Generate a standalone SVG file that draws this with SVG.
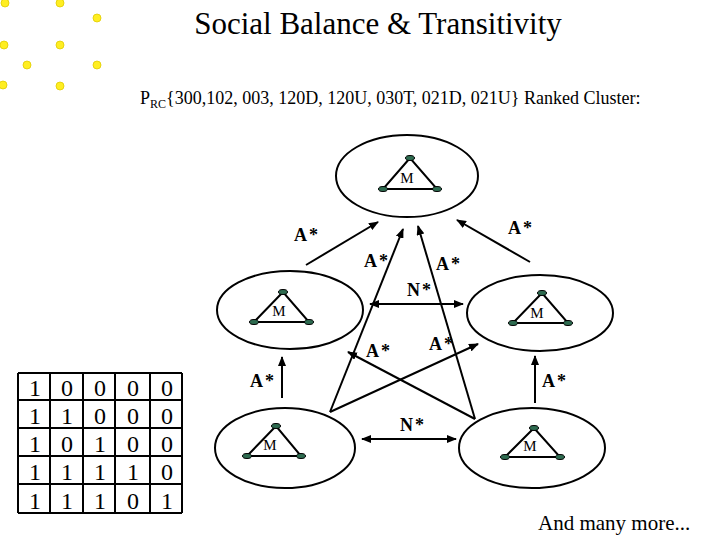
<svg xmlns="http://www.w3.org/2000/svg" width="720" height="540" viewBox="0 0 720 540">
<style>
.t{font-family:"Liberation Serif",serif;fill:#000}
.l{font-family:"Liberation Serif",serif;font-weight:bold;font-size:18px;letter-spacing:2px}
.m{font-family:"Liberation Serif",serif;font-size:15px;text-anchor:middle}
.e{fill:none;stroke:#000;stroke-width:2}
.c{stroke:#000;stroke-width:2;fill:none}
.n{fill:#2e6b50;stroke:#000;stroke-width:1}
.tri{fill:none;stroke:#000;stroke-width:2}
.dot{fill:#ffee22;stroke:#e0cc00;stroke-width:0.8}
.g{stroke:#000;stroke-width:2}
.mx{font-family:"Liberation Serif",serif;font-size:24px;text-anchor:middle}
</style>
<defs>
<marker id="ar" markerWidth="10" markerHeight="8" refX="9" refY="4" orient="auto" markerUnits="userSpaceOnUse"><path d="M0,0 L10,4 L0,8 Z" fill="#000"/></marker>
<marker id="as" markerWidth="10" markerHeight="8" refX="1" refY="4" orient="auto" markerUnits="userSpaceOnUse"><path d="M10,0 L0,4 L10,8 Z" fill="#000"/></marker>
</defs>
<rect width="720" height="540" fill="#fff"/>
<g id="dots">
<circle class="dot" cx="5" cy="3" r="4"/><circle class="dot" cx="60" cy="3" r="4"/><circle class="dot" cx="97" cy="18" r="4"/>
<circle class="dot" cx="4" cy="45" r="4"/><circle class="dot" cx="60" cy="45" r="4"/><circle class="dot" cx="27" cy="65" r="4"/>
<circle class="dot" cx="97" cy="65" r="4"/><circle class="dot" cx="3" cy="85" r="4"/><circle class="dot" cx="60" cy="86" r="4"/>
</g>
<text class="t" x="378" y="34" font-size="31" text-anchor="middle">Social Balance &amp; Transitivity</text>
<text class="t" x="140" y="104" font-size="18">P<tspan font-size="12" dy="4">RC</tspan><tspan dy="-4">{300,102, 003, 120D, 120U, 030T, 021D, 021U}   Ranked Cluster:</tspan></text>
<g id="top">
<ellipse class="e" cx="407" cy="176" rx="71" ry="41"/>
<path class="tri" d="M410,158 L383,189 L437,189 Z"/>
<ellipse class="n" cx="410" cy="158" rx="4.5" ry="2.5"/><ellipse class="n" cx="383" cy="189" rx="4.5" ry="2.5"/><ellipse class="n" cx="437" cy="189" rx="4.5" ry="2.5"/>
<text class="m" x="407" y="183">M</text>
</g>
<g id="midleft">
<ellipse class="e" cx="290" cy="310" rx="73" ry="39"/>
<path class="tri" d="M283,292 L254,322 L309,322 Z"/>
<ellipse class="n" cx="283" cy="292" rx="4.5" ry="2.5"/><ellipse class="n" cx="254" cy="322" rx="4.5" ry="2.5"/><ellipse class="n" cx="309" cy="322" rx="4.5" ry="2.5"/>
<text class="m" x="279" y="316">M</text>
</g>
<g id="midright">
<ellipse class="e" cx="540" cy="313" rx="73" ry="38"/>
<path class="tri" d="M542,293 L513,323 L568,323 Z"/>
<ellipse class="n" cx="542" cy="293" rx="4.5" ry="2.5"/><ellipse class="n" cx="513" cy="323" rx="4.5" ry="2.5"/><ellipse class="n" cx="568" cy="323" rx="4.5" ry="2.5"/>
<text class="m" x="537" y="318">M</text>
</g>
<g id="botleft">
<ellipse class="e" cx="285" cy="448" rx="70" ry="40"/>
<path class="tri" d="M276,426 L247,456 L301,456 Z"/>
<ellipse class="n" cx="276" cy="426" rx="4.5" ry="2.5"/><ellipse class="n" cx="247" cy="456" rx="4.5" ry="2.5"/><ellipse class="n" cx="301" cy="456" rx="4.5" ry="2.5"/>
<text class="m" x="270" y="450">M</text>
</g>
<g id="botright">
<ellipse class="e" cx="532" cy="448" rx="73" ry="40"/>
<path class="tri" d="M534,428 L505,457 L560,457 Z"/>
<ellipse class="n" cx="534" cy="428" rx="4.5" ry="2.5"/><ellipse class="n" cx="505" cy="457" rx="4.5" ry="2.5"/><ellipse class="n" cx="560" cy="457" rx="4.5" ry="2.5"/>
<text class="m" x="530" y="451">M</text>
</g>
<g id="connectors">
<line class="c" x1="306" y1="265" x2="378" y2="222" marker-end="url(#ar)"/>
<line class="c" x1="530" y1="262" x2="457" y2="220" marker-end="url(#ar)"/>
<line class="c" x1="330" y1="412" x2="403" y2="229" marker-end="url(#ar)"/>
<line class="c" x1="475" y1="419" x2="418" y2="226" marker-end="url(#ar)"/>
<line class="c" x1="370" y1="304" x2="463" y2="304" marker-start="url(#as)" marker-end="url(#ar)"/>
<line class="c" x1="330" y1="412" x2="478" y2="344" marker-end="url(#ar)"/>
<line class="c" x1="475" y1="419" x2="348" y2="352" marker-end="url(#ar)"/>
<line class="c" x1="282" y1="398" x2="282" y2="357" marker-end="url(#ar)"/>
<line class="c" x1="535" y1="403" x2="535" y2="356" marker-end="url(#ar)"/>
<line class="c" x1="362" y1="439" x2="456" y2="439" marker-start="url(#as)" marker-end="url(#ar)"/>
</g>
<g id="labels">
<text class="l" x="294" y="241">A*</text>
<text class="l" x="508" y="234">A*</text>
<text class="l" x="364" y="267">A*</text>
<text class="l" x="436" y="270">A*</text>
<text class="l" x="407" y="296">N*</text>
<text class="l" x="366" y="357">A*</text>
<text class="l" x="429" y="350">A*</text>
<text class="l" x="250" y="387">A*</text>
<text class="l" x="542" y="387">A*</text>
<text class="l" x="400" y="431">N*</text>
</g>
<g id="matrix">
<g class="g">
<line x1="18" y1="373" x2="182" y2="373"/><line x1="18" y1="400" x2="182" y2="400"/><line x1="18" y1="428" x2="182" y2="428"/><line x1="18" y1="456" x2="182" y2="456"/><line x1="18" y1="484" x2="182" y2="484"/><line x1="18" y1="513" x2="182" y2="513"/>
<line x1="18" y1="373" x2="18" y2="513"/><line x1="50" y1="373" x2="50" y2="513"/><line x1="83" y1="373" x2="83" y2="513"/><line x1="115" y1="373" x2="115" y2="513"/><line x1="150" y1="373" x2="150" y2="513"/><line x1="182" y1="373" x2="182" y2="513"/>
</g>
<g class="mx">
<text x="35" y="396">1</text><text x="67" y="396">0</text><text x="100" y="396">0</text><text x="133" y="396">0</text><text x="167" y="396">0</text>
<text x="35" y="424">1</text><text x="67" y="424">1</text><text x="100" y="424">0</text><text x="133" y="424">0</text><text x="167" y="424">0</text>
<text x="35" y="452">1</text><text x="67" y="452">0</text><text x="100" y="452">1</text><text x="133" y="452">0</text><text x="167" y="452">0</text>
<text x="35" y="480">1</text><text x="67" y="480">1</text><text x="100" y="480">1</text><text x="133" y="480">1</text><text x="167" y="480">0</text>
<text x="35" y="509">1</text><text x="67" y="509">1</text><text x="100" y="509">1</text><text x="133" y="509">0</text><text x="167" y="509">1</text>
</g>
</g>
<text class="t" x="538" y="530" font-size="21">And many more...</text>
</svg>
